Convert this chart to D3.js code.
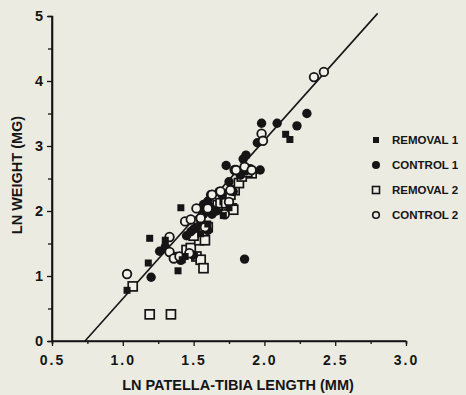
<!DOCTYPE html>
<html>
<head>
<meta charset="utf-8">
<script src="https://cdn.jsdelivr.net/npm/d3@7"></script>
<style>
  body { margin: 0; background: #ecebe2; }
  svg { display: block; }
  text { font-family: "Liberation Sans", Arial, sans-serif; font-weight: bold; fill: #151515; }
</style>
</head>
<body>
<svg id="chart" width="466" height="395"></svg>
<script>
// data (ln patella-tibia length, ln weight)
const removal1 = [[1.03,0.78],[1.18,1.20],[1.19,1.58],[1.39,1.08],[1.42,1.25],[1.41,2.05],[1.44,1.30],
  [1.55,1.65],[1.60,1.80],[1.71,1.93],[1.75,2.05],[2.15,3.18],[2.18,3.10],[1.30,1.55]];
const control1 = [[1.20,0.98],[1.26,1.38],[1.30,1.45],[1.45,1.62],[1.48,1.68],[1.50,1.72],[1.52,1.75],
  [1.55,1.85],[1.57,1.95],[1.58,2.05],[1.60,2.15],[1.62,2.25],[1.63,1.95],[1.66,2.00],[1.68,2.30],
  [1.70,2.25],[1.73,2.70],[1.75,2.45],[1.78,2.30],[1.83,2.55],[1.85,2.80],[1.87,2.86],[1.87,2.62],
  [1.90,2.65],[1.97,2.63],[1.95,3.05],[1.98,3.35],[2.09,3.35],[2.23,3.31],[2.30,3.50],[1.86,1.26],
  [1.38,1.30],[1.41,1.24],[1.50,1.32],[1.60,1.70],[1.57,2.10],[1.62,2.05]];
const removal2 = [[1.07,0.84],[1.19,0.41],[1.34,0.41],[1.45,1.40],[1.48,1.43],[1.52,1.30],[1.55,1.25],
  [1.57,1.12],[1.54,1.55],[1.50,1.62],[1.58,1.55],[1.60,1.75],[1.66,2.04],[1.67,2.09],[1.69,2.12],
  [1.72,2.17],[1.73,2.12],[1.76,2.25],[1.77,2.04],[1.78,2.02],[1.79,2.32],[1.82,2.43],[1.84,2.53],
  [1.85,2.60],[1.91,2.58],[1.88,2.60]];
const control2 = [[1.03,1.03],[1.33,1.60],[1.33,1.37],[1.36,1.27],[1.44,1.84],[1.48,1.87],[1.52,2.04],
  [1.55,1.89],[1.60,2.04],[1.58,1.75],[1.63,2.25],[1.69,2.30],[1.76,2.32],[1.75,2.14],[1.72,1.95],
  [1.79,2.63],[1.80,2.63],[1.86,2.68],[1.91,2.63],[1.98,3.19],[1.99,3.08],[2.35,4.06],[2.42,4.14],
  [1.40,1.30],[1.47,1.35]];
const fitLine = [[0.733,0],[2.80,5.04]];
const xTicks = [0.5,1.0,1.5,2.0,2.5,3.0];
const yTicks = [0,1,2,3,4,5];
const seriesNames = ["REMOVAL 1","CONTROL 1","REMOVAL 2","CONTROL 2"];

const svg = d3.select("#chart");
const ink = "#151515";

const x = d3.scaleLinear().domain([0.5, 3.0]).range([52, 406]);
const y = d3.scaleLinear().domain([0, 5]).range([341, 16]);

// minor ticks
svg.append("g").attr("transform", "translate(0,341)")
  .call(d3.axisBottom(x).tickValues(d3.range(0.75, 3.0, 0.5)).tickSize(3).tickFormat(""));
svg.append("g").attr("transform", "translate(52,0)")
  .call(d3.axisLeft(y).tickValues(d3.range(0.5, 5, 1)).tickSize(4).tickFormat(""));

// major axes
const xAxis = svg.append("g").attr("transform", "translate(0,341)")
  .call(d3.axisBottom(x).tickValues(xTicks).tickSize(5).tickPadding(9).tickFormat(d3.format(".1f")));
const yAxis = svg.append("g").attr("transform", "translate(52,0)")
  .call(d3.axisLeft(y).tickValues(yTicks).tickSize(5).tickPadding(4).tickFormat(d3.format("d")));

svg.selectAll(".domain").attr("stroke", ink).attr("stroke-width", 1.6);
svg.selectAll(".tick line").attr("stroke", ink).attr("stroke-width", 1.3);
xAxis.selectAll(".domain").attr("d", "M52,0H406");
yAxis.selectAll(".domain").attr("d", "M0,341V16");
xAxis.selectAll("text").attr("font-size", 14).style("letter-spacing", "2px").attr("fill", ink);
yAxis.selectAll("text").attr("font-size", 14.5).attr("fill", ink);

// axis titles
svg.append("text").attr("x", 238).attr("y", 390).attr("text-anchor", "middle")
  .attr("font-size", 14.5).text("LN PATELLA-TIBIA LENGTH (MM)");
svg.append("text").attr("transform", "translate(22,175) rotate(-90)").attr("text-anchor", "middle")
  .attr("font-size", 14.5).text("LN WEIGHT (MG)");

// regression line
svg.append("path").datum(fitLine)
  .attr("d", d3.line().x(d => x(d[0])).y(d => y(d[1])))
  .attr("stroke", ink).attr("stroke-width", 1.6).attr("fill", "none");

const pts = svg.append("g");
pts.selectAll(".r2").data(removal2).join("rect")
  .attr("x", d => x(d[0]) - 4.5).attr("y", d => y(d[1]) - 4.5)
  .attr("width", 9).attr("height", 9)
  .attr("fill", "#f2f1ea").attr("stroke", ink).attr("stroke-width", 1.7);
pts.selectAll(".c1").data(control1).join("circle")
  .attr("cx", d => x(d[0])).attr("cy", d => y(d[1])).attr("r", 4.7)
  .attr("fill", ink);
pts.selectAll(".c2").data(control2).join("circle")
  .attr("cx", d => x(d[0])).attr("cy", d => y(d[1])).attr("r", 4.3)
  .attr("fill", "#f2f1ea").attr("stroke", ink).attr("stroke-width", 1.8);
pts.selectAll(".r1").data(removal1).join("rect")
  .attr("x", d => x(d[0]) - 3.5).attr("y", d => y(d[1]) - 3.5)
  .attr("width", 7).attr("height", 7)
  .attr("fill", ink);

// legend
const legend = svg.append("g").attr("transform", "translate(376,140)");
seriesNames.forEach((name, i) => {
  const g = legend.append("g").attr("transform", `translate(0,${i * 25})`);
  if (i === 0) g.append("rect").attr("x", -3).attr("y", -3).attr("width", 6).attr("height", 6).attr("fill", ink);
  if (i === 1) g.append("circle").attr("r", 4).attr("fill", ink);
  if (i === 2) g.append("rect").attr("x", -3.5).attr("y", -3.5).attr("width", 7).attr("height", 7)
    .attr("fill", "none").attr("stroke", ink).attr("stroke-width", 1.6);
  if (i === 3) g.append("circle").attr("r", 3.3).attr("fill", "none").attr("stroke", ink).attr("stroke-width", 1.6);
  g.append("text").attr("x", 16).attr("y", 4).attr("font-size", 11.5).text(name);
});
</script>
</body>
</html>
